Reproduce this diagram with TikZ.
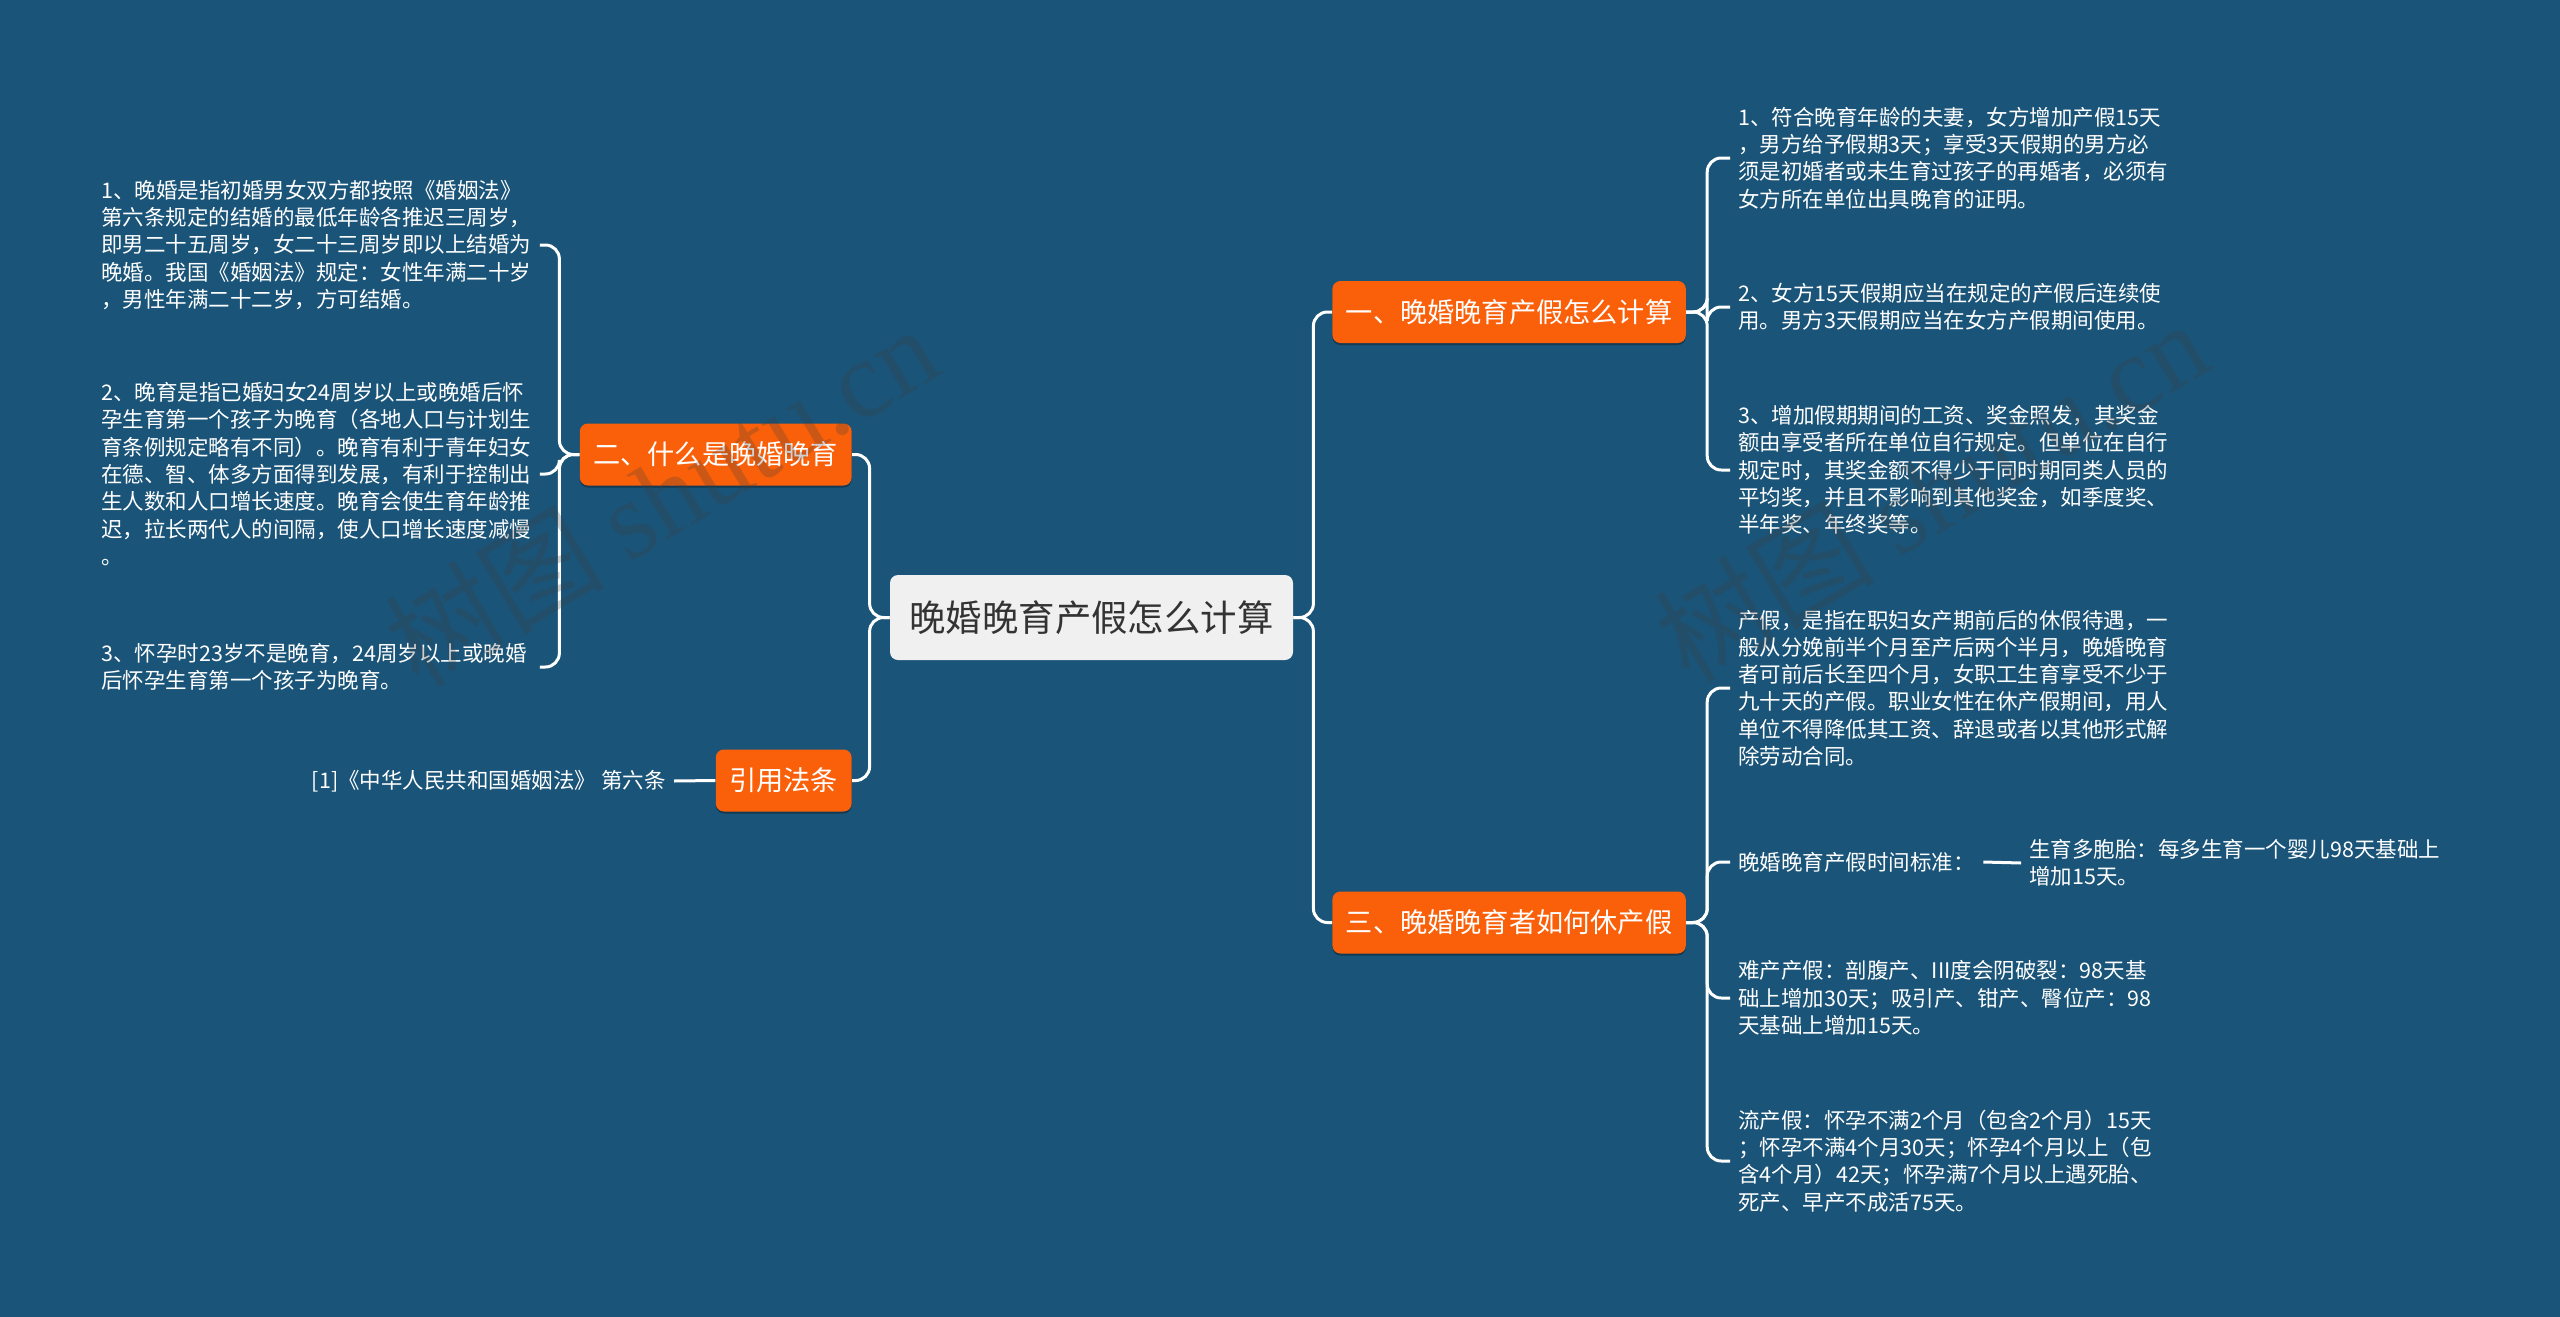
\documentclass[tikz,border=0pt]{standalone}
\usepackage{fontspec}
\setmainfont{Noto Sans CJK SC}
\newfontfamily\markfont{Liberation Serif}
\usetikzlibrary{shadows}
\definecolor{bgblue}{RGB}{26,84,120}
\definecolor{topicorange}{RGB}{250,96,10}
\definecolor{rootgray}{RGB}{240,240,240}
\definecolor{rootink}{RGB}{51,51,51}

\begin{document}
\begin{tikzpicture}[x=0.5pt,y=-0.5pt,
  root/.style={fill=rootgray,text=rootink,rounded corners=4pt,minimum width=201.5pt,minimum height=42.5pt,
    font=\fontsize{18.2pt}{22pt}\selectfont},
  branch/.style={fill=topicorange,text=white,rounded corners=4pt,minimum height=31pt,inner xsep=6.75pt,
    font=\fontsize{13.6pt}{16pt}\selectfont,
    drop shadow={shadow xshift=0pt,shadow yshift=-1pt,opacity=.3,fill=black}},
  leaf/.style={text=white,align=left,inner xsep=4pt,inner ysep=2pt,font=\fontsize{10.75pt}{13.65pt}\selectfont},
  wide/.style={leaf,text width=215pt},
  link/.style={draw=white,line width=1.5pt,rounded corners=7pt},
  wmark/.style={text=gray!50!black,opacity=.25,font=\fontsize{55pt}{60pt}\selectfont,rotate=31}
]
  \fill[bgblue] (0,0) rectangle (2560,1317);
  \useasboundingbox (0,0) rectangle (2560,1317);

  % centre and main topics
  \node[root] (root) at (1091.5,617.5) {晚婚晚育产假怎么计算};
  \node[branch,anchor=west] (calc) at (1332,312) {一、晚婚晚育产假怎么计算};
  \node[branch,anchor=east] (what) at (852,454.5) {二、什么是晚婚晚育};
  \node[branch,anchor=east] (cite) at (852,780.5) {引用法条};
  \node[branch,anchor=west] (howto) at (1332,922.5) {三、晚婚晚育者如何休产假};

  % left side
  \node[wide,anchor=west] (what1) at (93,245) {1、晚婚是指初婚男女双方都按照《婚姻法》\\第六条规定的结婚的最低年龄各推迟三周岁，\\即男二十五周岁，女二十三周岁即以上结婚为\\晚婚。我国《婚姻法》规定：女性年满二十岁\\，男性年满二十二岁，方可结婚。};
  \node[wide,anchor=west] (what2) at (93,474) {2、晚育是指已婚妇女24周岁以上或晚婚后怀\\孕生育第一个孩子为晚育（各地人口与计划生\\育条例规定略有不同）。晚育有利于青年妇女\\在德、智、体多方面得到发展，有利于控制出\\生人数和人口增长速度。晚育会使生育年龄推\\迟，拉长两代人的间隔，使人口增长速度减慢\\。};
  \node[wide,anchor=west] (what3) at (93,667) {3、怀孕时23岁不是晚育，24周岁以上或晚婚\\后怀孕生育第一个孩子为晚育。};
  \node[leaf,anchor=east] (law) at (674,781) {[1]《中华人民共和国婚姻法》 第六条};

  % right side
  \node[leaf,anchor=west] (calc1) at (1730,158) {1、符合晚育年龄的夫妻，女方增加产假15天\\，男方给予假期3天；享受3天假期的男方必\\须是初婚者或未生育过孩子的再婚者，必须有\\女方所在单位出具晚育的证明。};
  \node[leaf,anchor=west] (calc2) at (1730,307) {2、女方15天假期应当在规定的产假后连续使\\用。男方3天假期应当在女方产假期间使用。};
  \node[leaf,anchor=west] (calc3) at (1730,470) {3、增加假期期间的工资、奖金照发，其奖金\\额由享受者所在单位自行规定。但单位在自行\\规定时，其奖金额不得少于同时期同类人员的\\平均奖，并且不影响到其他奖金，如季度奖、\\半年奖、年终奖等。};
  \node[leaf,anchor=west] (how1) at (1730,688) {产假，是指在职妇女产期前后的休假待遇，一\\般从分娩前半个月至产后两个半月，晚婚晚育\\者可前后长至四个月，女职工生育享受不少于\\九十天的产假。职业女性在休产假期间，用人\\单位不得降低其工资、辞退或者以其他形式解\\除劳动合同。};
  \node[leaf,anchor=west] (how2) at (1730,862) {晚婚晚育产假时间标准：};
  \node[leaf,anchor=west] (how2a) at (2021,863) {生育多胞胎：每多生育一个婴儿98天基础上\\增加15天。};
  \node[leaf,anchor=west] (how3) at (1730,998) {难产产假：剖腹产、III度会阴破裂：98天基\\础上增加30天；吸引产、钳产、臀位产：98\\天基础上增加15天。};
  \node[leaf,anchor=west] (how4) at (1730,1161) {流产假：怀孕不满2个月（包含2个月）15天\\；怀孕不满4个月30天；怀孕4个月以上（包\\含4个月）42天；怀孕满7个月以上遇死胎、\\死产、早产不成活75天。};

  % connectors
  \draw[link] (root.east) -- ++(20,0) |- (calc.west);
  \draw[link] (root.east) -- ++(20,0) |- (howto.west);
  \draw[link] (root.west) -- ++(-20,0) |- (what.east);
  \draw[link] (root.west) -- ++(-20,0) |- (cite.east);
  \foreach \n in {what1,what2,what3}
    \draw[link] (what.west) -- ++(-20,0) |- (\n.east);
  \draw[link] (cite.west) -- (law.east);
  \foreach \n in {calc1,calc2,calc3}
    \draw[link] (calc.east) -- ++(21,0) |- (\n.west);
  \foreach \n in {how1,how2,how3,how4}
    \draw[link] (howto.east) -- ++(21,0) |- (\n.west);
  \draw[link] (how2.east) -- (how2a.west);

  % watermarks
  \node[wmark] (markL) at (661,495) {树图 {\markfont shutu.cn}};
  \node[wmark] (markR) at (1931,490) {树图 {\markfont shutu.cn}};
\end{tikzpicture}
\end{document}
